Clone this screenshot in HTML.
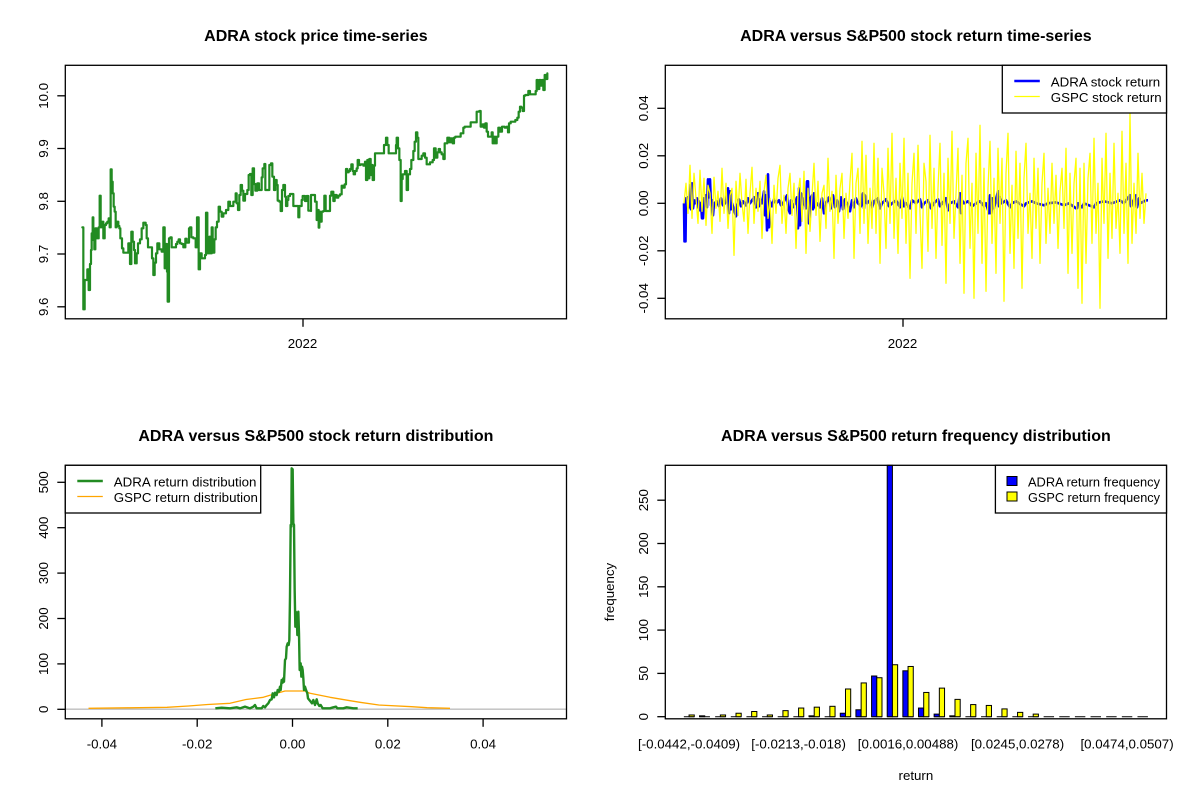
<!DOCTYPE html>
<html><head><meta charset="utf-8"><style>
html,body{margin:0;padding:0;background:#fff;}
svg{display:block;font-family:"Liberation Sans",Arial,sans-serif;}
</style></head><body>
<svg width="1200" height="800" viewBox="0 0 1200 800" xmlns="http://www.w3.org/2000/svg">
<rect width="1200" height="800" fill="#fff"/>

<!-- ===== Titles ===== -->
<g font-weight="bold" font-size="16" text-anchor="middle" fill="#000">
<text x="315.9" y="41">ADRA stock price time-series</text>
<text x="915.9" y="41">ADRA versus S&amp;P500 stock return time-series</text>
<text x="315.9" y="441">ADRA versus S&amp;P500 stock return distribution</text>
<text x="915.9" y="441">ADRA versus S&amp;P500 return frequency distribution</text>
</g>

<!-- ===== Panel 1: price ===== -->
<g fill="none" stroke="#228B22" stroke-width="2.2" stroke-linejoin="round" stroke-linecap="round">
<polyline vector-effect="non-scaling-stroke" transform="translate(70,140) scale(0.333333)" points="37,262 40,262 40,508 44,508 44,420 52,420 52,388 56,388 56,450 60,450 60,372 63,372 63,330 65,330 65,280 68,280 68,232 70,232 70,300 73,300 73,328 76,328 76,265 80,265 80,295 86,295 86,262 89,262 89,167 92,167 92,262 97,262 97,245 100,245 100,295 104,295 104,255 108,255 108,250 112,250 112,245 116,245 116,235 119,235 119,262 122,262 122,88 125,88 125,125 128,125 128,160 131,160 131,200 134,200 134,215 137,215 137,262 140,262 140,245 145,245 145,258 148,258 148,265 151,265 151,295 156,295 156,325 160,325 160,338 175,338 175,310 180,310 180,372 184,372 184,275 188,275 188,305 192,305 192,330 195,330 195,370 200,370 200,340 204,340 204,310 210,310 210,298 215,298 215,265 220,265 220,248 227,248 227,255 230,255 230,295 234,295 234,322 246,322 246,355 250,355 250,405 254,405 254,368 258,368 258,340 262,340 262,310 268,310 268,328 275,328 275,335 280,335 280,262 284,262 284,385 288,385 288,312 291,312 291,395 293,395 293,485 297,485 297,295 301,295 301,292 305,292 305,322 318,322 318,312 322,312 322,305 326,305 326,298 330,298 330,310 335,310 335,312 340,312 340,322 346,322 346,296 350,296 350,308 357,308 357,265 360,265 360,262 364,262 364,292 370,292 370,295 377,295 377,322 381,322 381,232 386,232 386,388 390,388 390,340 395,340 395,355 405,355 405,345 408,345 408,218 412,218 412,340 418,340 418,290 421,290 421,340 425,340 425,262 428,262 428,338 433,338 433,298 437,298 437,262 441,262 441,245 446,245 446,200 450,200 450,215 455,215 455,230 460,230 460,220 468,220 468,210 475,210 475,185 480,185 480,198 490,198 490,185 497,185 497,160 500,160 500,190 504,190 504,210 508,210 508,165 512,165 512,135 516,135 516,152 520,152 520,182 525,182 525,162 532,162 532,150 536,150 536,105 540,105 540,102 544,102 544,165 548,165 548,85 552,85 552,132 556,132 556,152 562,152 562,130 567,130 567,150 575,150 575,112 578,112 578,85 583,85 583,72 586,72 586,150 598,150 598,75 603,75 603,70 607,70 607,110 612,110 612,150 616,150 616,120 620,120 620,135 623,135 623,182 628,182 628,185 632,185 632,213 636,213 636,150 640,150 640,135 645,135 645,170 648,170 648,198 652,198 652,180 655,180 655,168 660,168 660,162 670,162 670,198 685,198 685,232 688,232 688,198 695,198 695,180 698,180 698,168 705,168 705,183 710,183 710,168 715,168 715,212 719,212"/>
<polyline vector-effect="non-scaling-stroke" transform="translate(310,65) scale(0.333333)" points="3,438 3,390 15,390 15,410 20,410 20,465 24,465 24,435 26,435 26,488 28,488 28,440 32,440 32,470 35,470 35,440 40,440 40,438 43,438 43,392 47,392 47,438 60,438 60,392 64,392 64,380 70,380 70,408 74,408 74,390 80,390 80,398 85,398 85,392 90,392 90,388 95,388 95,362 100,362 100,368 104,368 104,358 108,358 108,312 112,312 112,322 116,322 116,318 120,318 120,312 124,312 124,298 128,298 128,318 131,318 131,328 135,328 135,318 140,318 140,310 143,310 143,285 147,285 147,300 152,300 152,298 160,298 160,302 165,302 165,290 168,290 168,345 172,345 172,285 175,285 175,340 178,340 178,282 182,282 182,330 185,330 185,300 188,300 188,345 192,345 192,302 195,302 195,265 222,265 222,240 228,240 228,218 232,218 232,240 236,240 236,265 258,265 258,240 260,240 260,218 264,218 264,250 268,250 268,285 272,285 272,408 275,408 275,342 278,342 278,328 285,328 285,318 290,318 290,375 294,375 294,328 300,328 300,312 304,312 304,285 310,285 310,258 314,258 314,230 318,230 318,202 322,202 322,218 325,218 325,282 335,282 335,272 340,272 340,265 345,265 345,278 350,278 350,298 360,298 360,292 368,292 368,285 372,285 372,250 377,250 377,278 382,278 382,262 386,262 386,252 390,252 390,262 395,262 395,268 400,268 400,282 404,282 404,235 412,235 412,218 418,218 418,232 422,232 422,220 428,220 428,235 432,235 432,218 436,218 436,215 452,215 452,205 460,205 460,188 464,188 464,185 482,185 482,172 500,172 500,140 508,140 508,138 512,138 512,185 518,185 518,178 522,178 522,188 526,188 526,175 530,175 530,200 534,200 534,215 545,215 545,202 548,202 548,235 552,235 552,215 556,215 556,235 560,235 560,215 565,215 565,188 570,188 570,200 576,200 576,185 584,185 584,188 590,188 590,185 594,185 594,202 597,202 597,175 602,175 602,170 616,170 616,165 622,165 622,158 626,158 626,140 630,140 630,125 634,125 634,128 638,128 638,138 642,138 642,92 646,92 646,90 655,90 655,78 660,78 660,88 677,88 677,78 680,78 680,45 683,45 683,72 688,72 688,45 692,45 692,62 696,62 696,45 700,45 700,75 704,75 704,30 708,30 708,42 712,42 712,25"/>
</g>
<rect x="65.3" y="65.3" width="501.2" height="253.5" fill="none" stroke="#000" stroke-width="1.3"/>
<g stroke="#000" stroke-width="1.3">
<line x1="57.3" y1="306.8" x2="65.3" y2="306.8"/>
<line x1="57.3" y1="254" x2="65.3" y2="254"/>
<line x1="57.3" y1="201.3" x2="65.3" y2="201.3"/>
<line x1="57.3" y1="148.5" x2="65.3" y2="148.5"/>
<line x1="57.3" y1="95.8" x2="65.3" y2="95.8"/>
<line x1="303" y1="318.8" x2="303" y2="326.8"/>
</g>
<g font-size="13.3" text-anchor="middle" fill="#000">
<text transform="translate(48,306.8) rotate(-90)">9.6</text>
<text transform="translate(48,254) rotate(-90)">9.7</text>
<text transform="translate(48,201.3) rotate(-90)">9.8</text>
<text transform="translate(48,148.5) rotate(-90)">9.9</text>
<text transform="translate(48,95.8) rotate(-90)">10.0</text>
<text x="302.5" y="348">2022</text>
</g>

<!-- ===== Panel 2: returns ===== -->
<g transform="translate(684,203.3) scale(1,-1)" fill="none" stroke-linejoin="round">
<polyline stroke="#0000FF" stroke-width="2.6" points="0,0 0.5,-38 1.5,-38 2,5 3,-3 4,6 5,-4 6,18 7,-6 8,20 9,-5 10,3 11,0 13,5 14,-4 15,2 16,-7 17,0 18,-15 19,-15 20,5 21,-3 22,8 23,-4 24,24 25,6 26,24 27,-2 28,3 29,-12 30,0 33,2 35,-3 37,5 39,-2 41,0 44,15 45,-10 46,12 47,-6 48,0 52,-13 53,-2 55,4 57,-3 59,2 62,-2 64,5 66,0 70,6 72,-4 74,10 75,-3 76,4 78,0 80,12 81,-12 82,8 83,-27 84,29 85,-24 86,2 88,-3 90,4 92,0 95,3 97,-2 99,0 103,8 104,-5 106,-10 107,3 109,-4 111,0 113,6 114,-25 115,15 116,-22 117,10 118,-6 119,5 122,-5 123,22 124,22 125,-20 126,4 128,8 129,-6 130,10 131,-4 133,0 136,-4 138,5 140,-10 142,0 145,6 147,-5 149,8 151,-4 153,3 155,-8 157,6 159,-6 161,4 163,0 166,-8 168,3 170,-4 172,5 174,0 177,-3 179,10 180,-5 181,8 183,0 186,3 188,-4 190,2 194,5 196,-5 198,0 202,4 205,-3 208,0 212,3 216,-4 218,6 220,-3 222,0 226,-5 228,3 232,0 236,4 238,-4 240,0 244,3 247,-5 250,0 254,4 256,-3 258,0 262,5 264,-7 266,0 270,2 274,-4 276,10 277,-10 278,3 280,0 284,2 288,-3 292,0 296,2 300,-3 302,0 305,-10 306,8 307,-10 308,5 310,-5 312,4 314,12 315,-3 316,6 318,0 322,3 326,-4 328,0 332,2 335,0 340,-3 342,0 348,2 352,0 360,-2 364,0 372,1 380,-2 385,0 392,-5 393,-5 394,0 398,-4 400,0 410,-4 412,0 420,2 428,0 436,3 440,0 446,8 447,-3 448,0 452,8 453,-4 455,5 456,0 460,2 462,3 464,3"/>
<polyline stroke="#FFFF00" stroke-width="1.3" points="0,0 2,20 4,-10 6,38 8,-15 10,30 12,5 14,-20 16,33 18,-8 20,25 22,-22 24,18 26,10 28,-30 30,26 32,-5 34,12 36,-18 38,35 40,-10 42,20 44,-25 46,8 48,15 50,-52 52,22 54,-12 56,30 58,0 60,-18 62,24 64,-30 66,10 68,36 70,-20 72,15 74,-8 76,22 78,-35 80,12 82,28 84,-15 86,5 88,-40 90,18 92,-10 94,25 96,38 98,-20 100,8 102,-30 104,15 106,30 108,-12 110,20 112,-45 114,10 116,25 118,-18 120,32 122,-50 124,15 126,-28 128,8 130,40 132,-12 134,22 136,-38 138,10 140,18 142,-25 144,45 146,-8 148,12 150,-55 152,28 154,-20 156,15 158,30 160,-35 162,10 164,-15 166,22 168,50 170,-55 172,20 174,35 176,-30 178,62 180,-20 182,48 184,-40 186,15 188,-25 190,60 192,-30 194,45 196,-60 198,35 200,10 202,-45 204,55 206,-20 208,70 210,-35 212,25 214,-50 216,40 218,-15 220,65 222,-40 224,30 226,-75 228,20 230,50 232,-30 234,58 236,-10 238,-65 240,40 242,22 244,-48 246,68 248,-25 250,35 252,-55 254,15 256,60 258,-42 260,30 262,-80 264,45 266,-20 268,72 270,-35 272,10 274,55 276,-60 278,28 280,-90 282,40 284,65 286,-45 288,20 290,-95 292,50 294,-30 296,78 298,-60 300,35 302,-88 304,15 306,62 308,-40 310,25 312,-70 314,55 316,-20 318,45 320,-98 322,30 324,70 326,-50 328,18 330,-65 332,52 334,-35 336,40 338,-85 340,25 342,60 344,-30 346,10 348,-55 350,45 352,-25 354,35 356,-60 358,20 360,50 362,-40 364,15 366,-30 368,40 370,-20 372,28 374,-45 376,12 378,35 380,-25 382,55 384,-70 386,30 388,-50 390,20 392,45 394,-85 396,35 398,-100 400,40 402,-60 404,25 406,50 408,-40 410,65 412,-30 414,20 416,-105 418,45 420,-20 422,70 424,-55 426,30 428,-35 430,60 432,-25 434,10 436,-50 438,72 440,-30 442,40 444,-60 446,90 448,-40 450,20 452,-30 454,50 456,-15 458,30 460,-20 462,10"/>
</g>
<rect x="665.3" y="65.3" width="501.2" height="253.5" fill="none" stroke="#000" stroke-width="1.3"/>
<g stroke="#000" stroke-width="1.3">
<line x1="657.3" y1="108.3" x2="665.3" y2="108.3"/>
<line x1="657.3" y1="155.8" x2="665.3" y2="155.8"/>
<line x1="657.3" y1="203.3" x2="665.3" y2="203.3"/>
<line x1="657.3" y1="250.8" x2="665.3" y2="250.8"/>
<line x1="657.3" y1="298.3" x2="665.3" y2="298.3"/>
<line x1="903" y1="318.8" x2="903" y2="326.8"/>
</g>
<g font-size="13.3" text-anchor="middle" fill="#000">
<text transform="translate(648,108.3) rotate(-90)">0.04</text>
<text transform="translate(648,155.8) rotate(-90)">0.02</text>
<text transform="translate(648,203.3) rotate(-90)">0.00</text>
<text transform="translate(648,250.8) rotate(-90)">-0.02</text>
<text transform="translate(648,298.3) rotate(-90)">-0.04</text>
<text x="902.5" y="348">2022</text>
</g>
<!-- legend -->
<rect x="1002.3" y="65.3" width="164.2" height="47.7" fill="#fff" stroke="#000" stroke-width="1.3"/>
<line x1="1014.3" y1="81" x2="1039.8" y2="81" stroke="#0000FF" stroke-width="2.6"/>
<line x1="1014.3" y1="96.5" x2="1039.8" y2="96.5" stroke="#FFFF00" stroke-width="1.3"/>
<g font-size="13.3" fill="#000">
<text x="1050.8" y="86.5">ADRA stock return</text>
<text x="1050.8" y="102">GSPC stock return</text>
</g>

<!-- ===== Panel 3: density ===== -->
<line x1="65.3" y1="709.2" x2="566.5" y2="709.2" stroke="#BEBEBE" stroke-width="1.3"/>
<polyline fill="none" stroke="#FFA500" stroke-width="1.3" stroke-linejoin="round" points="88.5,708.3 130,707.8 167,707.3 188.5,706 207.7,704.5 230,703.3 246,699.5 263.3,697.3 273.3,694.3 285,691 305,691 310,693.3 330,697.3 350,700.7 360,702.3 378.8,705 411.5,706.7 427,707.7 450,708.3"/>
<polyline fill="none" stroke="#228B22" stroke-width="2.4" stroke-linejoin="round" vector-effect="non-scaling-stroke" transform="translate(230,460) scale(0.333333)" points="-44,745 -25,743 0,745 20,742 30,745 45,740 60,745 70,740 75,735 80,745 95,745 100,738 105,742 110,735 115,730 120,720 125,718 128,700 132,712 135,698 140,705 143,690 147,695 150,680 152,690 155,660 158,668 160,655 162,665 165,600 168,595 170,560 173,550 176,555 178,540 180,410 182,195 184,200 185,25 188,28 190,190 192,195 194,390 196,500 197,455 200,460 202,525 203,480 205,455 207,520 209,630 212,610 214,650 216,620 218,630 220,655 222,690 225,680 228,690 232,700 234,715 238,720 242,725 246,730 250,720 255,735 260,718 263,730 268,738 272,735 278,745 290,745 300,745 310,742 318,740 322,745 340,745 350,742 370,745 383,745"/>
<rect x="65.3" y="465.3" width="501.2" height="253.5" fill="none" stroke="#000" stroke-width="1.3"/>
<g stroke="#000" stroke-width="1.3">
<line x1="57.3" y1="709.3" x2="65.3" y2="709.3"/>
<line x1="57.3" y1="663.9" x2="65.3" y2="663.9"/>
<line x1="57.3" y1="618.5" x2="65.3" y2="618.5"/>
<line x1="57.3" y1="573.1" x2="65.3" y2="573.1"/>
<line x1="57.3" y1="527.7" x2="65.3" y2="527.7"/>
<line x1="57.3" y1="482.3" x2="65.3" y2="482.3"/>
<line x1="101.9" y1="718.8" x2="101.9" y2="726.8"/>
<line x1="197.2" y1="718.8" x2="197.2" y2="726.8"/>
<line x1="292.5" y1="718.8" x2="292.5" y2="726.8"/>
<line x1="387.8" y1="718.8" x2="387.8" y2="726.8"/>
<line x1="483.1" y1="718.8" x2="483.1" y2="726.8"/>
</g>
<g font-size="13.3" text-anchor="middle" fill="#000">
<text transform="translate(48,709.3) rotate(-90)">0</text>
<text transform="translate(48,663.9) rotate(-90)">100</text>
<text transform="translate(48,618.5) rotate(-90)">200</text>
<text transform="translate(48,573.1) rotate(-90)">300</text>
<text transform="translate(48,527.7) rotate(-90)">400</text>
<text transform="translate(48,482.3) rotate(-90)">500</text>
<text x="101.9" y="748.3">-0.04</text>
<text x="197.2" y="748.3">-0.02</text>
<text x="292.5" y="748.3">0.00</text>
<text x="387.8" y="748.3">0.02</text>
<text x="483.1" y="748.3">0.04</text>
</g>
<rect x="65.3" y="465.3" width="195.4" height="47.7" fill="#fff" stroke="#000" stroke-width="1.3"/>
<line x1="77.3" y1="481" x2="102.8" y2="481" stroke="#228B22" stroke-width="2.6"/>
<line x1="77.3" y1="496.5" x2="102.8" y2="496.5" stroke="#FFA500" stroke-width="1.3"/>
<g font-size="13.3" fill="#000">
<text x="113.8" y="486.5">ADRA return distribution</text>
<text x="113.8" y="502">GSPC return distribution</text>
</g>

<!-- ===== Panel 4: barplot ===== -->
<g stroke="#000" stroke-width="1" fill="none">
<path d="M683.86,716.7h10.43M699.51,716.7h10.43M715.15,716.7h10.43M730.79,716.7h10.43M746.43,716.7h10.43M762.07,716.7h10.43M777.71,716.7h10.43M793.36,716.7h10.43M809,716.7h10.43M824.64,716.7h10.43M840.28,716.7h10.43M855.92,716.7h10.43M871.57,716.7h10.43M887.21,716.7h10.43M902.85,716.7h10.43M918.49,716.7h10.43M934.13,716.7h10.43M949.78,716.7h10.43M965.42,716.7h10.43M981.06,716.7h10.43M996.7,716.7h10.43M1012.34,716.7h10.43M1027.99,716.7h10.43M1043.63,716.7h10.43M1059.27,716.7h10.43M1074.91,716.7h10.43M1090.55,716.7h10.43M1106.2,716.7h10.43M1121.84,716.7h10.43M1137.48,716.7h10.43"/>
</g>
<g stroke="#000" stroke-width="1">
<g fill="#0000FF">
<rect x="699.51" y="715.83" width="5.21" height="0.87"/>
<rect x="809" y="715.83" width="5.21" height="0.87"/>
<rect x="840.28" y="713.24" width="5.21" height="3.46"/>
<rect x="855.92" y="709.77" width="5.21" height="6.93"/>
<rect x="871.57" y="676" width="5.21" height="40.7"/>
<rect x="887.21" y="465.3" width="5.21" height="251.4"/>
<rect x="902.85" y="670.8" width="5.21" height="45.9"/>
<rect x="918.49" y="708.04" width="5.21" height="8.66"/>
<rect x="934.13" y="714.1" width="5.21" height="2.6"/>
<rect x="949.78" y="715.83" width="5.21" height="0.87"/>
</g>
<g fill="#FFFF00">
<rect x="689.07" y="714.97" width="5.21" height="1.73"/>
<rect x="720.36" y="714.97" width="5.21" height="1.73"/>
<rect x="736" y="713.24" width="5.21" height="3.46"/>
<rect x="751.64" y="711.5" width="5.21" height="5.2"/>
<rect x="767.28" y="714.97" width="5.21" height="1.73"/>
<rect x="782.92" y="710.64" width="5.21" height="6.06"/>
<rect x="798.57" y="708.04" width="5.21" height="8.66"/>
<rect x="814.21" y="707.17" width="5.21" height="9.53"/>
<rect x="829.85" y="706.31" width="5.21" height="10.39"/>
<rect x="845.49" y="688.99" width="5.21" height="27.71"/>
<rect x="861.13" y="682.93" width="5.21" height="33.77"/>
<rect x="876.78" y="677.73" width="5.21" height="38.97"/>
<rect x="892.42" y="664.74" width="5.21" height="51.96"/>
<rect x="908.06" y="666.47" width="5.21" height="50.23"/>
<rect x="923.7" y="692.45" width="5.21" height="24.25"/>
<rect x="939.34" y="688.12" width="5.21" height="28.58"/>
<rect x="954.99" y="699.38" width="5.21" height="17.32"/>
<rect x="970.63" y="704.58" width="5.21" height="12.12"/>
<rect x="986.27" y="705.44" width="5.21" height="11.26"/>
<rect x="1001.91" y="708.91" width="5.21" height="7.79"/>
<rect x="1017.55" y="712.37" width="5.21" height="4.33"/>
<rect x="1033.2" y="714.1" width="5.21" height="2.6"/>
</g>
</g>
<rect x="665.3" y="465.3" width="501.2" height="253.5" fill="none" stroke="#000" stroke-width="1.3"/>
<g stroke="#000" stroke-width="1.3">
<line x1="657.3" y1="716.7" x2="665.3" y2="716.7"/>
<line x1="657.3" y1="673.4" x2="665.3" y2="673.4"/>
<line x1="657.3" y1="630.1" x2="665.3" y2="630.1"/>
<line x1="657.3" y1="586.8" x2="665.3" y2="586.8"/>
<line x1="657.3" y1="543.5" x2="665.3" y2="543.5"/>
<line x1="657.3" y1="500.2" x2="665.3" y2="500.2"/>
</g>
<g font-size="13.3" text-anchor="middle" fill="#000">
<text transform="translate(648,716.7) rotate(-90)">0</text>
<text transform="translate(648,673.4) rotate(-90)">50</text>
<text transform="translate(648,630.1) rotate(-90)">100</text>
<text transform="translate(648,586.8) rotate(-90)">150</text>
<text transform="translate(648,543.5) rotate(-90)">200</text>
<text transform="translate(648,500.2) rotate(-90)">250</text>
<text x="689.07" y="748.3">[-0.0442,-0.0409)</text>
<text x="798.57" y="748.3">[-0.0213,-0.018)</text>
<text x="908.06" y="748.3">[0.0016,0.00488)</text>
<text x="1017.55" y="748.3">[0.0245,0.0278)</text>
<text x="1127.05" y="748.3">[0.0474,0.0507)</text>
<text x="915.9" y="780">return</text>
<text transform="translate(614,592) rotate(-90)">frequency</text>
</g>
<rect x="995.4" y="465.3" width="171.1" height="47.7" fill="#fff" stroke="#000" stroke-width="1.3"/>
<rect x="1007" y="476.5" width="10" height="9" fill="#0000FF" stroke="#000" stroke-width="1"/>
<rect x="1007" y="492" width="10" height="9" fill="#FFFF00" stroke="#000" stroke-width="1"/>
<g font-size="13.3" fill="#000">
<text x="1028" y="486.5" textLength="132" lengthAdjust="spacingAndGlyphs">ADRA return frequency</text>
<text x="1028" y="502" textLength="132" lengthAdjust="spacingAndGlyphs">GSPC return frequency</text>
</g>
</svg>
</body></html>
